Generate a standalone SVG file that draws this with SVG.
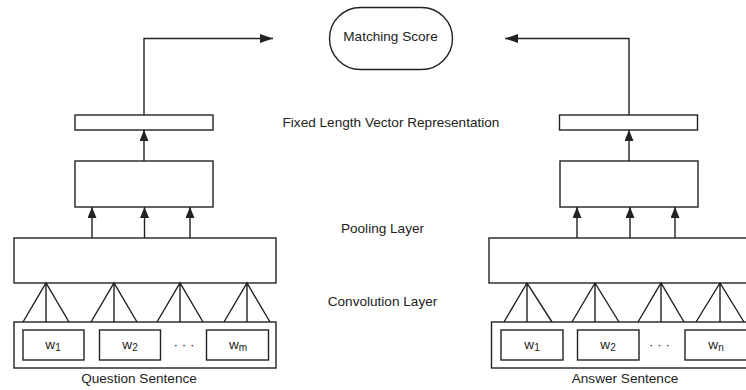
<svg xmlns="http://www.w3.org/2000/svg" width="746" height="390" viewBox="0 0 746 390">
<style>
.b{fill:#fff;stroke:#222;stroke-width:1.4}
.l{fill:none;stroke:#222;stroke-width:1.4}
.t{font-family:"Liberation Sans",Arial,sans-serif;font-size:13.6px;fill:#222;text-anchor:middle}
.w{font-family:"Liberation Sans",Arial,sans-serif;font-size:13.6px;fill:#222;text-anchor:middle}
.s{font-size:10px}
</style>
<defs>
<marker id="ah" markerUnits="userSpaceOnUse" markerWidth="13" markerHeight="9" refX="13" refY="4.5" orient="auto">
<path d="M0,0 L13,4.5 L0,9 z" fill="#222"/>
</marker>
<marker id="av" markerUnits="userSpaceOnUse" markerWidth="11" markerHeight="9" refX="11" refY="4.5" orient="auto">
<path d="M0,0 L11,4.5 L0,9 z" fill="#222"/>
</marker>
</defs>
<rect width="746" height="390" fill="#fff"/>

<g id="matching-score">
<rect class="b" x="329.5" y="7.5" width="123" height="62" rx="31" ry="31"/>
<text class="t" x="390.5" y="41">Matching Score</text>
</g>

<g id="labels">
<text class="t" x="391" y="127">Fixed Length Vector Representation</text>
<text class="t" x="382.5" y="233">Pooling Layer</text>
<text class="t" x="382.5" y="306">Convolution Layer</text>
</g>

<g id="q-fixed"><rect class="b" x="75" y="115" width="138" height="15"/></g>
<g id="q-pool"><rect class="b" x="75" y="161" width="138" height="46"/></g>
<g id="q-conv"><rect class="b" x="14" y="238" width="262" height="45"/></g>
<g id="q-sentence">
<rect class="b" x="14" y="322" width="262" height="46"/>
<text class="t" x="139" y="383">Question Sentence</text>
</g>
<g id="q-w1"><rect class="b" x="23" y="330" width="61" height="30"/><text class="w" x="53" y="348.5">w<tspan class="s" dy="2">1</tspan></text></g>
<g id="q-w2"><rect class="b" x="99.5" y="330" width="61" height="30"/><text class="w" x="130" y="348.5">w<tspan class="s" dy="2">2</tspan></text></g>
<g id="q-dots"><text class="w" x="184" y="348.5">· · ·</text></g>
<g id="q-wm"><rect class="b" x="206.5" y="330" width="62" height="30"/><text class="w" x="238" y="348.5">w<tspan class="s" dy="2">m</tspan></text></g>

<g id="a-fixed"><rect class="b" x="559.5" y="115" width="138" height="15"/></g>
<g id="a-pool"><rect class="b" x="560" y="161" width="138" height="46"/></g>
<g id="a-conv"><rect class="b" x="489" y="238" width="262" height="45"/></g>
<g id="a-sentence">
<rect class="b" x="491.5" y="322" width="262" height="46"/>
<text class="t" x="625" y="383">Answer Sentence</text>
</g>
<g id="a-w1"><rect class="b" x="501" y="330" width="62" height="30"/><text class="w" x="532" y="348.5">w<tspan class="s" dy="2">1</tspan></text></g>
<g id="a-w2"><rect class="b" x="577.5" y="330" width="61.5" height="30"/><text class="w" x="608" y="348.5">w<tspan class="s" dy="2">2</tspan></text></g>
<g id="a-dots"><text class="w" x="659.5" y="348.5">· · ·</text></g>
<g id="a-wn"><rect class="b" x="685" y="330" width="62" height="30"/><text class="w" x="716" y="348.5">w<tspan class="s" dy="2">n</tspan></text></g>

<g id="connectors">
<path class="l" d="M144,115 V38.5 H273" marker-end="url(#ah)"/>
<path class="l" d="M629,115 V38.5 H505" marker-end="url(#ah)"/>
<path class="l" d="M144,161 V130" marker-end="url(#av)"/>
<path class="l" d="M629,161 V130" marker-end="url(#av)"/>
<path class="l" d="M92,238 V207" marker-end="url(#av)"/>
<path class="l" d="M144.5,238 V207" marker-end="url(#av)"/>
<path class="l" d="M190,238 V207" marker-end="url(#av)"/>
<path class="l" d="M577,238 V207" marker-end="url(#av)"/>
<path class="l" d="M630,238 V207" marker-end="url(#av)"/>
<path class="l" d="M675,238 V207" marker-end="url(#av)"/>
<path class="l" d="M23,322 L46,283 L69,322 M46,283 V322"/>
<path class="l" d="M91,322 L114,283 L137,322 M114,283 V322"/>
<path class="l" d="M157,322 L180,283 L203,322 M180,283 V322"/>
<path class="l" d="M224,322 L247,283 L270,322 M247,283 V322"/>
<path class="l" d="M504,322 L527,283 L552,322 M527,283 V322"/>
<path class="l" d="M572,322 L595,283 L619,322 M595,283 V322"/>
<path class="l" d="M638,322 L661,283 L684,322 M661,283 V322"/>
<path class="l" d="M696,322 L720,283 L744,322 M720,283 V322"/>
</g>
</svg>
